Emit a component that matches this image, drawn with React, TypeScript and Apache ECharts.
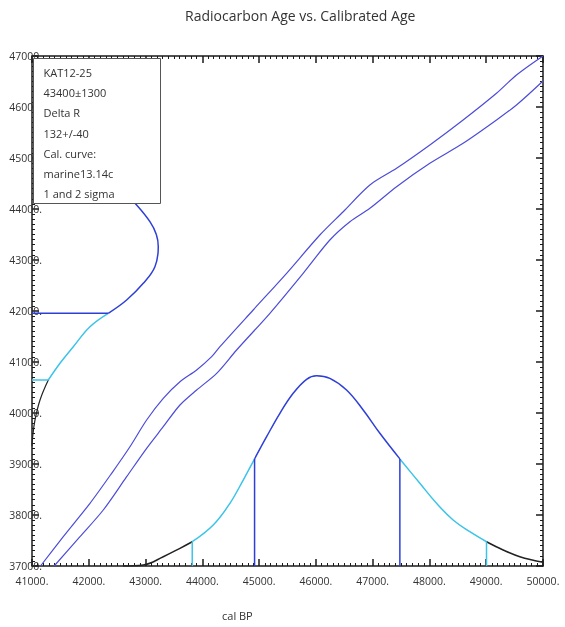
import React, { useEffect, useRef } from "react";
import * as echarts from "echarts";

type Pt = [number, number];

const xTicks = [41000, 42000, 43000, 44000, 45000, 46000, 47000, 48000, 49000, 50000];
const yTicks = [37000, 38000, 39000, 40000, 41000, 42000, 43000, 44000, 45000, 46000, 47000];

const titleText = "Radiocarbon Age vs. Calibrated Age";
const xAxisName = "cal BP";
const infoLines = ["KAT12-25", "43400\u00b11300", "Delta R", "132+/-40", "Cal. curve:", "marine13.14c", "1 and 2 sigma"];

// calibration curve envelope (cal BP, 14C age)
const calCurveUpper: Pt[] = [
  [41150, 37000], [41551, 37575], [42021, 38229], [42403, 38818], [42725, 39339], [43019, 39863],
  [43312, 40288], [43606, 40614], [43900, 40843], [44164, 41104], [44310, 41300], [44896, 42020],
  [45484, 42739], [46070, 43490], [46481, 43947], [46951, 44471], [47421, 44798], [48007, 45255],
  [48593, 45745], [49181, 46269], [49533, 46627], [50000, 47000],
];
const calCurveLower: Pt[] = [
  [41390, 37000], [41845, 37575], [42255, 38098], [42667, 38751], [43019, 39308], [43312, 39731],
  [43606, 40157], [43900, 40451], [44252, 40778], [44604, 41235], [45190, 41955], [45776, 42739],
  [46246, 43392], [46599, 43751], [46951, 44014], [47421, 44437], [48007, 44896], [48593, 45288],
  [49181, 45745], [49533, 46039], [50000, 46510],
];

// radiocarbon age distribution (drawn against the y axis)
const rcSigma1: Pt[] = [
  [42300, 44600], [42600, 44350], [42843, 44078], [43077, 43751], [43190, 43500], [43224, 43261],
  [43165, 42869], [42960, 42543], [42667, 42216], [42343, 41955],
];
const rcSigma2: Pt[] = [[42343, 41955], [42021, 41692], [41727, 41300], [41493, 40975], [41287, 40647]];
const rcTail: Pt[] = [[41287, 40647], [41141, 40255], [41053, 39863], [41008, 39500], [41000, 39350]];
const rcSigma1Level: Pt[] = [[41000, 41955], [42343, 41955]];
const rcSigma2Level: Pt[] = [[41000, 40647], [41287, 40647]];

// calibrated age distribution (drawn against the x axis)
const calTailLeft: Pt[] = [[42600, 37000], [42960, 37020], [43312, 37182], [43606, 37347], [43822, 37476]];
const calSigma2Left: Pt[] = [[43822, 37476], [44192, 37804], [44486, 38229], [44720, 38686], [44920, 39100]];
const calSigma1: Pt[] = [
  [44920, 39100], [45132, 39535], [45366, 39994], [45600, 40386], [45836, 40661], [46012, 40731],
  [46246, 40680], [46540, 40451], [46833, 40059], [47127, 39602], [47479, 39100],
];
const calSigma2Right: Pt[] = [[47479, 39100], [47831, 38622], [48125, 38229], [48417, 37902], [48711, 37673], [49005, 37476]];
const calTailRight: Pt[] = [[49005, 37476], [49298, 37314], [49592, 37182], [50000, 37073]];
const calSigma2Bounds: Pt[][] = [[[43822, 37000], [43822, 37476]], [[49005, 37000], [49005, 37476]]];
const calSigma1Bounds: Pt[][] = [[[44920, 37000], [44920, 39100]], [[47479, 37000], [47479, 39100]]];

const CURVE = "#4c4cd8";
const BLUE = "#2d3fd8";
const CYAN = "#3cc4e8";
const BLACK = "#222222";
const AXIS = "#1a1a1a";
const FONT = "Open Sans";

export default function App() {
  const ref = useRef<HTMLDivElement>(null);
  useEffect(() => {
    if (!ref.current) return;
    const chart = echarts.init(ref.current, undefined, { renderer: "svg" });
    const line = (data: Pt[], color: string, width: number, smooth: number | boolean = 0.35) => ({
      type: "line",
      data,
      showSymbol: false,
      symbol: "none",
      smooth,
      lineStyle: { color, width },
      itemStyle: { color },
      silent: true,
    });
    const xMin = xTicks[0], xMax = xTicks[xTicks.length - 1];
    const yMin = yTicks[0], yMax = yTicks[yTicks.length - 1];
    const mkAxis = (pos: string, min: number, max: number, label: any) => ({
      type: "value",
      min,
      max,
      interval: 1000,
      position: pos,
      splitLine: { show: false },
      axisLine: { show: true, onZero: false, lineStyle: { color: AXIS, width: 1.5 } },
      axisTick: { show: true, inside: true, length: 7, lineStyle: { color: AXIS, width: 1.5 } },
      minorTick: { show: true, splitNumber: 10, length: 3, lineStyle: { color: AXIS, width: 1 } },
      axisLabel: label,
    });
    chart.setOption({
      animation: false,
      grid: { left: 32, top: 56, right: 22, bottom: 61 },
      xAxis: [
        mkAxis("bottom", xMin, xMax, { show: true, margin: 9, color: "#333", fontFamily: FONT, fontSize: 10.5, formatter: (v: number) => v + "." }),
        mkAxis("top", xMin, xMax, { show: false }),
      ],
      yAxis: [
        mkAxis("left", yMin, yMax, { show: true, margin: -10, color: "#333", fontFamily: FONT, fontSize: 10.5, padding: [0, 0, 9, 0], formatter: (v: number) => v + "." }),
        mkAxis("right", yMin, yMax, { show: false }),
      ],
      series: [
        line(calCurveUpper, CURVE, 1.2, 0.3),
        line(calCurveLower, CURVE, 1.2, 0.3),
        line(rcSigma1, BLUE, 1.5, 0.4),
        line(rcSigma2, CYAN, 1.5, 0.4),
        line(rcTail, BLACK, 1.2, 0.4),
        line(rcSigma1Level, BLUE, 1.5, false),
        line(rcSigma2Level, CYAN, 1.5, false),
        line(calTailLeft, BLACK, 1.5, 0.4),
        line(calSigma2Left, CYAN, 1.5, 0.4),
        line(calSigma1, BLUE, 1.5, 0.4),
        line(calSigma2Right, CYAN, 1.5, 0.4),
        line(calTailRight, BLACK, 1.5, 0.4),
        ...calSigma2Bounds.map((d) => line(d, CYAN, 1.5, false)),
        ...calSigma1Bounds.map((d) => line(d, BLUE, 1.5, false)),
        { type: "line", xAxisIndex: 1, yAxisIndex: 1, data: [], silent: true },
      ],
      graphic: [
        {
          type: "text", left: 185, top: 8, z: 100,
          style: { text: titleText, fill: "#333", font: `14px "${FONT}"` },
        },
        {
          type: "text", left: 222, top: 610, z: 100,
          style: { text: xAxisName, fill: "#333", font: `11px "${FONT}"` },
        },
        {
          type: "group", left: 33, top: 58, z: 100,
          children: [
            {
              type: "rect", shape: { x: 0, y: 0, width: 127, height: 145 },
              style: { fill: "#fff", stroke: "#555", lineWidth: 1 }, z: 100,
            },
            ...infoLines.map((t, i) => ({
              type: "text", x: 10, y: 14 + i * 20.2, z: 101,
              style: { text: t, fill: "#333", font: `11px "${FONT}"`, verticalAlign: "middle" },
            })),
          ],
        },
      ],
    });
    return () => chart.dispose();
  }, []);
  return <div ref={ref} style={{ position: "fixed", left: 0, top: 0, width: 565, height: 627 }} />;
}
